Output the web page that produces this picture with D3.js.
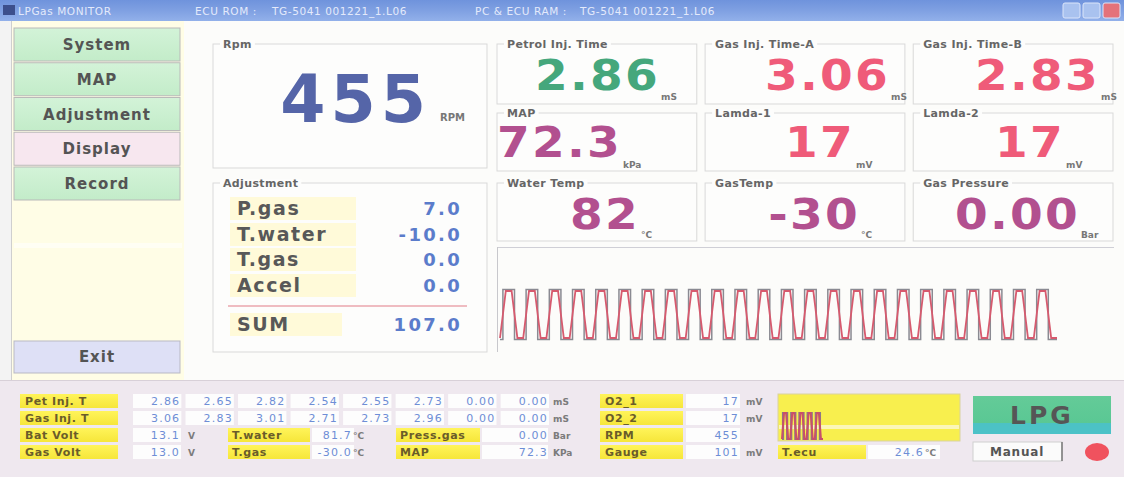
<!DOCTYPE html>
<html><head><meta charset="utf-8">
<script src="https://cdn.jsdelivr.net/npm/d3@7"></script>
<style>body{margin:0;background:#fff;overflow:hidden}svg{display:block}</style>
</head><body><svg id="c" width="1124" height="477"></svg>
<script>
// ---------------- DATA ----------------
const titleParts = ["LPGas MONITOR", "ECU ROM :", "TG-5041  001221_1.L06", "PC & ECU RAM :", "TG-5041  001221_1.L06"];
const menuItems = ["System", "MAP", "Adjustment", "Display", "Record"];
const activeMenu = "Display";
const exitLabel = "Exit";
const rpmTitle = "Rpm";
const rpmValue = "455";
const rpmUnit = "RPM";
const gaugeTitles = ["Petrol Inj. Time", "Gas Inj. Time-A", "Gas Inj. Time-B", "MAP", "Lamda-1", "Lamda-2", "Water Temp", "GasTemp", "Gas Pressure"];
const gaugeValues = ["2.86", "3.06", "2.83", "72.3", "17", "17", "82", "-30", "0.00"];
const gaugeUnits = ["mS", "mS", "mS", "kPa", "mV", "mV", "°C", "°C", "Bar"];
const adjTitle = "Adjustment";
const adjLabels = ["P.gas", "T.water", "T.gas", "Accel"];
const adjValues = [7.0, -10.0, 0.0, 0.0];
const adjSumLabel = "SUM";
const adjSum = 107.0;
// injector pulse trace (0 = low, 1 = high)
const waveLevels = [
  0,1,1,0, 0,1,1,0, 0,1,1,0, 0,1,1,0, 0,1,1,0, 0,1,1,0,
  0,1,1,0, 0,1,1,0, 0,1,1,0, 0,1,1,0, 0,1,1,0, 0,1,1,0,
  0,1,1,0, 0,1,1,0, 0,1,1,0, 0,1,1,0, 0,1,1,0, 0,1,1,0,
  0,1,1,0, 0,1,1,0, 0,1,1,0, 0,1,1,0, 0,1,1,0, 0,1,1,0,
  0
];
const miniWaveLevels = [0,1,1,0, 0,1,1,0, 0,1,1,0, 0,1,1,0, 0,1,1,0, 0];
const tableRowLabels = ["Pet Inj. T", "Gas Inj. T", "Bat Volt", "Gas Volt"];
const petInjT = ["2.86", "2.65", "2.82", "2.54", "2.55", "2.73", "0.00", "0.00"];
const gasInjT = ["3.06", "2.83", "3.01", "2.71", "2.73", "2.96", "0.00", "0.00"];
const injUnit = "mS";
const voltValues = ["13.1", "13.0"];
const voltUnit = "V";
const tempLabels = ["T.water", "T.gas"];
const tempValues = ["81.7", "-30.0"];
const tempUnit = "°C";
const midLabels = ["Press.gas", "MAP"];
const midValues = ["0.00", "72.3"];
const midUnits = ["Bar", "KPa"];
const sensorLabels = ["O2_1", "O2_2", "RPM", "Gauge"];
const sensorValues = ["17", "17", "455", "101"];
const sensorUnits = ["mV", "mV", "", "mV"];
const ecuLabel = "T.ecu";
const ecuValue = "24.6";
const fuelMode = "LPG";
const modeButton = "Manual";

// ---------------- LAYOUT ----------------
const W = 1124, H = 477;
const F = "'DejaVu Sans', Verdana, sans-serif";
const svg = d3.select("#c");
const defs = svg.append("defs");

function grad(id, stops) {
  const g = defs.append("linearGradient").attr("id", id).attr("x1", 0).attr("y1", 0).attr("x2", 0).attr("y2", 1);
  stops.forEach(s => g.append("stop").attr("offset", s[0]).attr("stop-color", s[1]));
}
grad("gTitle", [[0, "#6f93dc"], [0.5, "#7fa0e2"], [1, "#92b0ea"]]);
grad("gBtn", [[0, "#d3f3d8"], [1, "#c3ecc9"]]);
grad("gLpg", [[0, "#64cb98"], [0.7, "#5ac894"], [0.72, "#4cc2c4"], [1, "#4cc2c8"]]);
grad("gYel", [[0, "#fff45a"], [1, "#f6e63a"]]);

svg.append("rect").attr("width", W).attr("height", H).attr("fill", "#fcfcfa");
svg.append("rect").attr("x", 0).attr("y", 20).attr("width", 11).attr("height", 360).attr("fill", "#f3f3f3");
svg.append("line").attr("x1", 11.5).attr("x2", 11.5).attr("y1", 20).attr("y2", 380).attr("stroke", "#cfcfcf");

// title bar
svg.append("rect").attr("width", W).attr("height", 21).attr("fill", "url(#gTitle)");
svg.append("rect").attr("x", 3).attr("y", 5).attr("width", 12).attr("height", 10).attr("fill", "#3c4f8c");
const titleX = [18, 195, 272, 475, 580];
svg.selectAll("text.title").data(titleParts).join("text")
  .attr("x", (d, i) => titleX[i]).attr("y", 15)
  .attr("font-family", F).attr("font-size", 10.5).attr("fill", "#e4eafb").attr("letter-spacing", 0.6)
  .text(d => d);
[[1063, "#a9c2ef"], [1083, "#a9c2ef"], [1103, "#e4727a"]].forEach(b => {
  svg.append("rect").attr("x", b[0]).attr("y", 3).attr("width", 17).attr("height", 15).attr("rx", 2)
    .attr("fill", b[1]).attr("stroke", "#dbe5fa");
});

// left menu
svg.append("rect").attr("x", 12).attr("y", 21).attr("width", 172).attr("height", 359).attr("fill", "#fffde6");
svg.append("rect").attr("x", 14).attr("y", 243).attr("width", 168).attr("height", 5).attr("fill", "#fffef4");
const menuY = d3.scaleBand().domain(menuItems).range([28, 200]).paddingInner(0.05);
const menu = svg.selectAll("g.menu").data(menuItems).join("g").attr("class", "menu");
menu.append("rect").attr("x", 14).attr("y", d => menuY(d)).attr("width", 166).attr("height", menuY.bandwidth())
  .attr("fill", d => d === activeMenu ? "#f7e7ef" : "url(#gBtn)").attr("stroke", "#b9b9b9");
menu.append("text").attr("x", 97).attr("y", d => menuY(d) + menuY.bandwidth() / 2 + 5.5)
  .attr("text-anchor", "middle").attr("font-family", F).attr("font-weight", "bold").attr("font-size", 15)
  .attr("letter-spacing", 1).attr("fill", "#545454").text(d => d);
svg.append("rect").attr("x", 14).attr("y", 341).attr("width", 166).attr("height", 32)
  .attr("fill", "#dee0f6").attr("stroke", "#b9b9c4");
svg.append("text").attr("x", 97).attr("y", 362).attr("text-anchor", "middle").attr("font-family", F)
  .attr("font-weight", "bold").attr("font-size", 15).attr("letter-spacing", 1).attr("fill", "#545454").text(exitLabel);

// group box helper
function groupBox(x, y, w, h, label) {
  const g = svg.append("g");
  g.append("rect").attr("x", x).attr("y", y).attr("width", w).attr("height", h)
    .attr("fill", "#fdfdfc").attr("stroke", "#d9d9d9");
  const t = g.append("text").attr("x", x + 10).attr("y", y + 4).attr("font-family", F).attr("font-weight", "bold")
    .attr("font-size", 11).attr("letter-spacing", 0.35).attr("fill", "#666").text(label);
  const len = t.node().getComputedTextLength();
  g.insert("rect", "text").attr("x", x + 7).attr("y", y - 4).attr("width", len + 6).attr("height", 8).attr("fill", "#fdfdfc");
  return g;
}

// big-number helper (horizontally widened like the reference)
function bigText(xRight, yBase, size, sx, ls, color, txt) {
  return svg.append("text").attr("font-family", F).attr("font-weight", "bold").attr("font-size", size)
    .attr("letter-spacing", ls).attr("fill", color).attr("text-anchor", "end").text(txt)
    .attr("transform", `translate(${xRight},${yBase}) scale(${sx},1)`);
}

// RPM panel
groupBox(213, 44, 274, 124, rpmTitle);
bigText(431, 122, 65, 1, 5, "#5565a8", rpmValue);
svg.append("text").attr("x", 440).attr("y", 121).attr("font-family", F).attr("font-weight", "bold")
  .attr("font-size", 10).attr("fill", "#777").text(rpmUnit);

// gauge grid
const colX = d3.scaleBand().domain([0, 1, 2]).range([497, 1113]).paddingInner(0.04);
const rowTop = [44, 113, 183];
const rowH = [60, 58, 58];
const valBase = [90, 157, 229];
const unitBase = [100, 168, 238];
const valRightAbs = [660, 890, 1100, 622, 855, 1065, 640, 860, 1080];
const gaugeColor = ["#45a77c", "#ef5b79", "#ef5b79", "#b2508f", "#ef5b79", "#ef5b79", "#b2508f", "#b2508f", "#b2508f"];
gaugeTitles.forEach((t, i) => {
  const c = i % 3, r = Math.floor(i / 3);
  const x0 = colX(c);
  groupBox(x0, rowTop[r], colX.bandwidth(), rowH[r], t);
  bigText(valRightAbs[i], valBase[r], 42, 1.12, 2, gaugeColor[i], gaugeValues[i]);
  svg.append("text").attr("x", valRightAbs[i] + 1).attr("y", unitBase[r])
    .attr("font-family", F).attr("font-weight", "bold").attr("font-size", 9).attr("fill", "#777").text(gaugeUnits[i]);
});

// adjustment panel
groupBox(213, 183, 274, 169, adjTitle);
const adjBase = [215, 241, 266, 292];
adjLabels.forEach((l, i) => {
  svg.append("rect").attr("x", 230).attr("y", adjBase[i] - 18).attr("width", 126).attr("height", 23).attr("fill", "#fffad9");
  svg.append("text").attr("x", 237).attr("y", adjBase[i]).attr("font-family", F).attr("font-weight", "bold")
    .attr("font-size", 19).attr("letter-spacing", 1.6).attr("fill", "#585858").text(l);
  svg.append("text").attr("x", 462).attr("y", adjBase[i]).attr("text-anchor", "end").attr("font-family", F)
    .attr("font-weight", "bold").attr("font-size", 18).attr("letter-spacing", 2.3).attr("fill", "#5b7ccb")
    .text(d3.format(".1f")(adjValues[i]).replace("−", "-"));
});
svg.append("line").attr("x1", 228).attr("x2", 467).attr("y1", 306).attr("y2", 306).attr("stroke", "#eaa6ae").attr("stroke-width", 1.5);
svg.append("rect").attr("x", 230).attr("y", 313).attr("width", 112).attr("height", 23).attr("fill", "#fffad9");
svg.append("text").attr("x", 237).attr("y", 331).attr("font-family", F).attr("font-weight", "bold")
  .attr("font-size", 19).attr("letter-spacing", 1.6).attr("fill", "#585858").text(adjSumLabel);
svg.append("text").attr("x", 462).attr("y", 331).attr("text-anchor", "end").attr("font-family", F)
  .attr("font-weight", "bold").attr("font-size", 18).attr("letter-spacing", 2.3).attr("fill", "#5b7ccb")
  .text(d3.format(".1f")(adjSum));

// scope panel
svg.append("line").attr("x1", 497).attr("x2", 1114).attr("y1", 247.5).attr("y2", 247.5).attr("stroke", "#cfcfd6");
svg.append("line").attr("x1", 497.5).attr("x2", 497.5).attr("y1", 247).attr("y2", 352).attr("stroke", "#c8c8cc");
const wx = d3.scaleLinear().domain([0, waveLevels.length - 1]).range([500, 1057]);
const wy = d3.scaleLinear().domain([0, 1]).range([338, 291]);
svg.append("path").datum(waveLevels).attr("fill", "none").attr("stroke", "#8a8a92").attr("stroke-width", 1.5)
  .attr("d", d3.line().x((d, i) => wx(i)).y(d => wy(d) + (d ? -1.5 : 1.5)).curve(d3.curveStep));
svg.append("path").datum(waveLevels).attr("fill", "none").attr("stroke", "#d65a6e").attr("stroke-width", 1.8)
  .attr("d", d3.line().x((d, i) => wx(i)).y(d => wy(d)));

// ---------------- bottom panel ----------------
svg.append("rect").attr("x", 0).attr("y", 380).attr("width", W).attr("height", 97).attr("fill", "#efe8ef");
svg.append("line").attr("x1", 0).attr("x2", W).attr("y1", 380.5).attr("y2", 380.5).attr("stroke", "#d8d0d8");
const tRowTop = [394, 411, 428, 445];
const bh = 14;
function yBox(x, y, w) { svg.append("rect").attr("x", x).attr("y", y).attr("width", w).attr("height", bh).attr("fill", "url(#gYel)"); }
function wBox(x, y, w) { svg.append("rect").attr("x", x).attr("y", y).attr("width", w).attr("height", bh).attr("fill", "#fdfdfd"); }
function lab(x, y, t) {
  svg.append("text").attr("x", x).attr("y", y + 11).attr("font-family", F).attr("font-weight", "bold")
    .attr("font-size", 11).attr("letter-spacing", 0.6).attr("fill", "#6a5c2a").text(t);
}
function val(x, y, t) {
  svg.append("text").attr("x", x).attr("y", y + 11).attr("text-anchor", "end").attr("font-family", F)
    .attr("font-size", 11).attr("letter-spacing", 1.2).attr("fill", "#6e8ed6").text(t);
}
function unit(x, y, t) {
  svg.append("text").attr("x", x).attr("y", y + 11).attr("font-family", F).attr("font-weight", "bold")
    .attr("font-size", 9).attr("fill", "#7b7b7b").text(t);
}
tableRowLabels.forEach((l, i) => { yBox(20, tRowTop[i], 98); lab(25, tRowTop[i], l); });
const injX = d3.scaleBand().domain(d3.range(petInjT.length)).range([133, 549]).paddingInner(0.08);
[petInjT, gasInjT].forEach((row, r) => {
  row.forEach((v, j) => { wBox(injX(j), tRowTop[r], injX.bandwidth()); val(injX(j) + injX.bandwidth() - 1, tRowTop[r], v); });
  unit(553, tRowTop[r], injUnit);
});
voltValues.forEach((v, k) => {
  const y = tRowTop[2 + k];
  wBox(133, y, 48); val(180, y, v); unit(188, y, voltUnit);
  yBox(228, y, 82); lab(232, y, tempLabels[k]);
  wBox(312, y, 42); val(352, y, tempValues[k]); unit(353, y, tempUnit);
  yBox(396, y, 84); lab(400, y, midLabels[k]);
  wBox(482, y, 66); val(548, y, midValues[k]); unit(553, y, midUnits[k]);
});
sensorLabels.forEach((l, i) => {
  const y = tRowTop[i];
  yBox(600, y, 83); lab(605, y, l);
  wBox(686, y, 54); val(739, y, sensorValues[i]); unit(746, y, sensorUnits[i]);
});
yBox(778, tRowTop[3], 88); lab(782, tRowTop[3], ecuLabel);
wBox(868, tRowTop[3], 72); val(924, tRowTop[3], ecuValue); unit(925, tRowTop[3], tempUnit);

// mini scope
svg.append("rect").attr("x", 778).attr("y", 394).attr("width", 182).attr("height", 47).attr("fill", "#f8ef4e").attr("stroke", "#d9d2a0");
svg.append("rect").attr("x", 779).attr("y", 425).attr("width", 180).attr("height", 4).attr("fill", "#fbf6b8");
const mx = d3.scaleLinear().domain([0, miniWaveLevels.length - 1]).range([782, 823]);
const my = d3.scaleLinear().domain([0, 1]).range([439, 413]);
svg.append("path").datum(miniWaveLevels).attr("fill", "none").attr("stroke", "#8a7a8a").attr("stroke-width", 2.2)
  .attr("d", d3.line().x((d, i) => mx(i)).y(d => my(d)).curve(d3.curveStep));
svg.append("path").datum(miniWaveLevels).attr("fill", "none").attr("stroke", "#c9506a").attr("stroke-width", 2)
  .attr("d", d3.line().x((d, i) => mx(i)).y(d => my(d)));

// LPG indicator
svg.append("rect").attr("x", 973).attr("y", 396).attr("width", 138).attr("height", 38).attr("fill", "url(#gLpg)");
svg.append("text").attr("x", 1042).attr("y", 424).attr("text-anchor", "middle").attr("font-family", F)
  .attr("font-weight", "bold").attr("font-size", 25).attr("letter-spacing", 3).attr("fill", "#565656").text(fuelMode);
svg.append("rect").attr("x", 973).attr("y", 442).attr("width", 89).attr("height", 19).attr("fill", "#fbfbfb").attr("stroke", "#cfcfcf");
svg.append("line").attr("x1", 1062).attr("x2", 1062).attr("y1", 442).attr("y2", 461).attr("stroke", "#777").attr("stroke-width", 1.5);
svg.append("text").attr("x", 1017).attr("y", 456).attr("text-anchor", "middle").attr("font-family", F)
  .attr("font-weight", "bold").attr("font-size", 12).attr("letter-spacing", 0.8).attr("fill", "#555").text(modeButton);
svg.append("ellipse").attr("cx", 1097).attr("cy", 452).attr("rx", 12).attr("ry", 9).attr("fill", "#f0525e");
</script></body></html>
